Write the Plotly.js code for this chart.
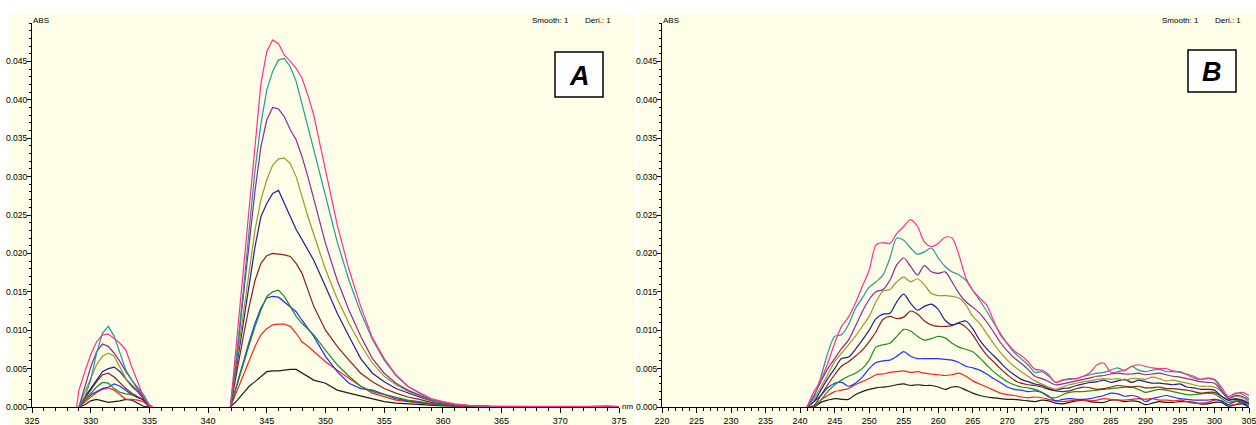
<!DOCTYPE html>
<html>
<head>
<meta charset="utf-8">
<script src="https://cdn.plot.ly/plotly-3.0.1.min.js"></script>
<style>html,body{margin:0;padding:0;background:#fff;}#chart{width:1256px;height:425px;}</style>
</head>
<body>
<div id="chart"></div>
<script>
// ---------- Panel A data (wavelength nm, absorbance) ----------
const xA = [328.8, 329, 329.5, 330, 330.5, 331, 331.5, 332, 332.5, 333, 333.5, 334, 334.5, 335, 335.3, 338,
  341.9, 342.5, 343, 343.5, 344, 344.5, 345, 345.5, 346, 346.5, 347, 347.5, 348, 348.5, 349, 350, 351, 352, 353, 354,
  355, 356, 357, 358, 359, 360, 361, 362, 363, 364, 366, 368, 370, 372, 374, 375];

const blackA = [null, 0, 0.0003, 0.0008, 0.0010, 0.0008, 0.0006, 0.0007, 0.0008, 0.0010, 0.0009, 0.0005, 0.0001, 0, null, null,
  0, 0.0009, 0.0018, 0.0027, 0.0033, 0.0040, 0.0046, 0.0047, 0.0047, 0.0048, 0.0049, 0.0049, 0.0044, 0.0040, 0.0035, 0.0031, 0.0022, 0.0018, 0.0014, 0.0010,
  0.0007, 0.0005, 0.0004, 0.0003, 0.0002, 0.00015, 0.0001, 0.00008, 0.00005, 0.00005, 0.00003, 0.00003, 0.00003, 0.00003, 0.00003, 0.00003];
const redA = [null, 0, 0.0007, 0.0013, 0.0019, 0.0023, 0.0025, 0.0022, 0.0016, 0.0010, 0.0010, 0.0009, 0.0007, 0, null, null,
  0, 0.0022, 0.0042, 0.0061, 0.0079, 0.0094, 0.0102, 0.0107, 0.0108, 0.0108, 0.0105, 0.0096, 0.0085, 0.0079, 0.0072, 0.0059, 0.0048, 0.0037, 0.0027, 0.0018,
  0.0013, 0.0009, 0.0007, 0.0005, 0.00035, 0.00025, 0.00015, 0.0001, 0.00005, 0.00005, 0.00005, 0.00005, 0.00005, 0.00005, 0.00005, 0.00005];
const blueA = [null, 0, 0.0009, 0.0016, 0.0020, 0.0024, 0.0026, 0.0030, 0.0027, 0.0021, 0.0016, 0.0012, 0.0010, 0, null, null,
  0, 0.0033, 0.0059, 0.0085, 0.0109, 0.0129, 0.0142, 0.0144, 0.0143, 0.0137, 0.0131, 0.0124, 0.0113, 0.0102, 0.0092, 0.0066, 0.0046, 0.0031, 0.0024, 0.0022,
  0.0016, 0.0011, 0.0008, 0.0006, 0.0004, 0.0003, 0.0002, 0.0001, 0.00008, 0.00005, 0.00005, 0.00005, 0.00005, 0.00005, 0.00005, 0.00005];
const greenA = [null, 0, 0.0009, 0.0018, 0.0026, 0.0032, 0.0031, 0.0024, 0.0019, 0.0017, 0.0016, 0.0013, 0.0009, 0, null, null,
  0, 0.0031, 0.0057, 0.0081, 0.0105, 0.0126, 0.0144, 0.0150, 0.0152, 0.0144, 0.0131, 0.0118, 0.0109, 0.0102, 0.0094, 0.0074, 0.0055, 0.0040, 0.0027, 0.0020,
  0.0016, 0.0012, 0.0009, 0.0007, 0.00045, 0.0003, 0.0002, 0.0001, 0.00008, 0.00005, 0.00005, 0.00005, 0.00005, 0.00005, 0.00015, 0.00005];
const brownA = [null, 0, 0.0011, 0.0022, 0.0033, 0.0042, 0.0044, 0.0039, 0.0031, 0.0024, 0.0018, 0.0013, 0.0009, 0, null, null,
  0, 0.0053, 0.0092, 0.0131, 0.0165, 0.0187, 0.0197, 0.0200, 0.0199, 0.0198, 0.0196, 0.0187, 0.0174, 0.0153, 0.0131, 0.0100, 0.0079, 0.0061, 0.0044, 0.0033,
  0.0024, 0.0018, 0.0013, 0.0010, 0.0006, 0.0004, 0.00025, 0.00015, 0.0001, 0.00005, 0.00005, 0.00005, 0.00005, 0.00005, 0.00005, 0.00005];
const navyA = [null, 0, 0.0013, 0.0024, 0.0035, 0.0046, 0.0050, 0.0052, 0.0046, 0.0037, 0.0027, 0.0020, 0.0011, 0, null, null,
  0, 0.0061, 0.0113, 0.0161, 0.0209, 0.0248, 0.0265, 0.0278, 0.0282, 0.0265, 0.0248, 0.0231, 0.0218, 0.0204, 0.0191, 0.0157, 0.0122, 0.0092, 0.0063, 0.0044,
  0.0033, 0.0024, 0.0018, 0.0013, 0.0008, 0.0005, 0.0003, 0.0002, 0.0001, 0.00008, 0.00005, 0.00005, 0.00005, 0.00005, 0.00005, 0.00005];
const oliveA = [null, 0, 0.0020, 0.0037, 0.0055, 0.0066, 0.0070, 0.0066, 0.0052, 0.0037, 0.0029, 0.0022, 0.0013, 0.0001, 0, null,
  0, 0.0066, 0.0122, 0.0179, 0.0231, 0.0270, 0.0296, 0.0315, 0.0323, 0.0324, 0.0317, 0.0300, 0.0273, 0.0248, 0.0225, 0.0179, 0.0141, 0.0109, 0.0081, 0.0057,
  0.0040, 0.0029, 0.0021, 0.0015, 0.0008, 0.0005, 0.0003, 0.0002, 0.0001, 0.00008, 0.00005, 0.00005, 0.00005, 0.00005, 0.00008, 0.00005];
const purpleA = [null, 0, 0.0026, 0.0052, 0.0072, 0.0082, 0.0079, 0.0070, 0.0059, 0.0046, 0.0035, 0.0024, 0.0013, 0.0001, 0, null,
  0, 0.0074, 0.0144, 0.0213, 0.0282, 0.0339, 0.0374, 0.0390, 0.0388, 0.0378, 0.0361, 0.0348, 0.0326, 0.0300, 0.0270, 0.0213, 0.0165, 0.0126, 0.0092, 0.0063,
  0.0044, 0.0031, 0.0022, 0.0016, 0.0009, 0.00055, 0.0003, 0.0002, 0.0001, 0.00008, 0.00005, 0.00005, 0.00005, 0.00008, 0.00005, 0.00005];
const tealA = [null, 0, 0.0013, 0.0035, 0.0070, 0.0096, 0.0105, 0.0092, 0.0070, 0.0048, 0.0035, 0.0026, 0.0016, 0.0003, 0, null,
  0, 0.0078, 0.0152, 0.0231, 0.0309, 0.0369, 0.0413, 0.0437, 0.0452, 0.0454, 0.0443, 0.0424, 0.0395, 0.0366, 0.0335, 0.0275, 0.0215, 0.0165, 0.0123, 0.0088,
  0.0061, 0.0041, 0.0027, 0.0018, 0.0010, 0.0006, 0.00035, 0.0002, 0.0001, 0.0001, 0.00005, 0.00005, 0.00008, 0.00005, 0.00005, 0.00005];
const pinkA = [0, 0.0022, 0.0046, 0.0068, 0.0085, 0.0094, 0.0095, 0.0089, 0.0083, 0.0074, 0.0052, 0.0033, 0.0013, 0.0001, 0, null,
  0, 0.0097, 0.0180, 0.0262, 0.0345, 0.0421, 0.0463, 0.0478, 0.0473, 0.0458, 0.0450, 0.0441, 0.0428, 0.0406, 0.0380, 0.0309, 0.0237, 0.0179, 0.0131, 0.0090,
  0.0063, 0.0042, 0.0027, 0.0019, 0.0011, 0.0007, 0.0004, 0.00025, 0.0001, 0.0001, 0.00005, 0.00008, 0.00005, 0.00006, 0.0001, 0.00005];

// ---------- Panel B data ----------
const xB = [241, 242, 243, 244, 245, 246, 247, 248, 249, 250, 251, 252, 253, 254, 255, 256, 257, 258, 259, 260,
  261, 262, 263, 264, 265, 266, 267, 268, 269, 270, 271, 272, 273, 274, 275, 276, 277, 278, 279, 280,
  281, 282, 283, 284, 285, 286, 287, 288, 289, 290, 291, 292, 293, 294, 295, 296, 297, 298, 299, 300,
  301, 302, 303, 304, 305];

const blackB = [0, 0, 0.0006, 0.0009, 0.0011, 0.0010, 0.0010, 0.0016, 0.0020, 0.0023, 0.0025, 0.0026, 0.0027, 0.0029, 0.0030, 0.0028, 0.0029, 0.0028, 0.0028, 0.0026,
  0.0023, 0.0026, 0.0026, 0.0022, 0.0018, 0.0015, 0.0013, 0.0012, 0.0011, 0.0010, 0.0010, 0.0009, 0.0008, 0.0007, 0.0009, 0.0008, 0.0005, 0.0004, 0.0006, 0.0008,
  0.0009, 0.0007, 0.0006, 0.0006, 0.0009, 0.0009, 0.0007, 0.0008, 0.0007, 0.0003, 0.0005, 0.0007, 0.0006, 0.0006, 0.0007, 0.0007, 0.0006, 0.0004, 0.0004, 0.0006,
  0.0006, 0.0001, 0.0003, 0.0004, 0.0000];
const redB = [0, 0, 0.0009, 0.0015, 0.0020, 0.0022, 0.0024, 0.0029, 0.0033, 0.0037, 0.0042, 0.0043, 0.0045, 0.0046, 0.0047, 0.0045, 0.0046, 0.0044, 0.0043, 0.0042,
  0.0041, 0.0042, 0.0044, 0.0040, 0.0034, 0.0030, 0.0026, 0.0022, 0.0018, 0.0016, 0.0015, 0.0013, 0.0012, 0.0013, 0.0012, 0.0010, 0.0008, 0.0007, 0.0008, 0.0009,
  0.0009, 0.0008, 0.0009, 0.0011, 0.0010, 0.0009, 0.0009, 0.0010, 0.0011, 0.0010, 0.0011, 0.0009, 0.0009, 0.0008, 0.0009, 0.0007, 0.0005, 0.0005, 0.0006, 0.0009,
  0.0008, 0.0003, 0.0003, 0.0007, 0.0000];
const blueB = [0, 0.0007, 0.0015, 0.0025, 0.0031, 0.0032, 0.0027, 0.0031, 0.0039, 0.0050, 0.0058, 0.0060, 0.0061, 0.0066, 0.0072, 0.0066, 0.0063, 0.0063, 0.0063, 0.0063,
  0.0062, 0.0061, 0.0058, 0.0053, 0.0051, 0.0048, 0.0043, 0.0037, 0.0032, 0.0026, 0.0023, 0.0022, 0.0020, 0.0021, 0.0019, 0.0014, 0.0008, 0.0010, 0.0011, 0.0010,
  0.0010, 0.0011, 0.0013, 0.0015, 0.0018, 0.0017, 0.0014, 0.0015, 0.0013, 0.0007, 0.0011, 0.0013, 0.0015, 0.0013, 0.0011, 0.0010, 0.0009, 0.0009, 0.0009, 0.0010,
  0.0008, 0.0003, 0.0007, 0.0006, 0.0000];
const greenB = [0, 0, 0.0009, 0.0020, 0.0029, 0.0035, 0.0040, 0.0044, 0.0050, 0.0061, 0.0078, 0.0081, 0.0083, 0.0092, 0.0101, 0.0099, 0.0092, 0.0087, 0.0089, 0.0092,
  0.0090, 0.0083, 0.0078, 0.0075, 0.0072, 0.0064, 0.0055, 0.0046, 0.0039, 0.0033, 0.0029, 0.0026, 0.0025, 0.0023, 0.0019, 0.0013, 0.0012, 0.0016, 0.0019, 0.0020,
  0.0020, 0.0021, 0.0022, 0.0023, 0.0024, 0.0025, 0.0026, 0.0026, 0.0023, 0.0019, 0.0021, 0.0023, 0.0022, 0.0020, 0.0018, 0.0016, 0.0016, 0.0017, 0.0018, 0.0017,
  0.0011, 0.0006, 0.0008, 0.0008, 0.0003];
const brownB = [0, 0.0002, 0.0015, 0.0029, 0.0042, 0.0053, 0.0059, 0.0066, 0.0074, 0.0085, 0.0098, 0.0114, 0.0118, 0.0115, 0.0117, 0.0125, 0.0121, 0.0112, 0.0107, 0.0105,
  0.0105, 0.0106, 0.0109, 0.0104, 0.0094, 0.0080, 0.0068, 0.0059, 0.0050, 0.0042, 0.0035, 0.0031, 0.0029, 0.0028, 0.0026, 0.0023, 0.0021, 0.0020, 0.0021, 0.0024,
  0.0026, 0.0025, 0.0023, 0.0024, 0.0026, 0.0028, 0.0027, 0.0026, 0.0027, 0.0025, 0.0025, 0.0026, 0.0024, 0.0024, 0.0023, 0.0022, 0.0020, 0.0018, 0.0019, 0.0019,
  0.0014, 0.0009, 0.0010, 0.0009, 0.0004];
const navyB = [0, 0.0007, 0.0022, 0.0037, 0.0050, 0.0063, 0.0065, 0.0075, 0.0087, 0.0100, 0.0115, 0.0121, 0.0122, 0.0137, 0.0147, 0.0135, 0.0126, 0.0131, 0.0134, 0.0127,
  0.0113, 0.0107, 0.0110, 0.0112, 0.0102, 0.0087, 0.0076, 0.0067, 0.0058, 0.0049, 0.0042, 0.0036, 0.0033, 0.0030, 0.0028, 0.0024, 0.0022, 0.0024, 0.0025, 0.0028,
  0.0030, 0.0032, 0.0033, 0.0035, 0.0032, 0.0034, 0.0036, 0.0032, 0.0035, 0.0033, 0.0031, 0.0031, 0.0030, 0.0029, 0.0030, 0.0026, 0.0025, 0.0023, 0.0023, 0.0022,
  0.0014, 0.0009, 0.0011, 0.0009, 0.0005];
const oliveB = [0, 0.0011, 0.0026, 0.0042, 0.0059, 0.0070, 0.0081, 0.0092, 0.0105, 0.0118, 0.0137, 0.0151, 0.0153, 0.0163, 0.0169, 0.0163, 0.0167, 0.0159, 0.0148, 0.0145,
  0.0145, 0.0144, 0.0142, 0.0133, 0.0118, 0.0109, 0.0096, 0.0083, 0.0071, 0.0061, 0.0053, 0.0046, 0.0040, 0.0034, 0.0030, 0.0026, 0.0023, 0.0026, 0.0029, 0.0031,
  0.0033, 0.0034, 0.0036, 0.0037, 0.0036, 0.0037, 0.0035, 0.0037, 0.0037, 0.0036, 0.0039, 0.0037, 0.0034, 0.0035, 0.0033, 0.0031, 0.0029, 0.0027, 0.0027, 0.0026,
  0.0020, 0.0011, 0.0014, 0.0012, 0.0007];
const purpleB = [0, 0.0015, 0.0033, 0.0050, 0.0063, 0.0076, 0.0087, 0.0105, 0.0124, 0.0140, 0.0150, 0.0153, 0.0165, 0.0185, 0.0194, 0.0183, 0.0172, 0.0184, 0.0176, 0.0174,
  0.0176, 0.0163, 0.0148, 0.0137, 0.0130, 0.0122, 0.0111, 0.0098, 0.0084, 0.0073, 0.0064, 0.0057, 0.0049, 0.0040, 0.0037, 0.0033, 0.0029, 0.0030, 0.0032, 0.0034,
  0.0036, 0.0038, 0.0040, 0.0041, 0.0043, 0.0044, 0.0043, 0.0043, 0.0044, 0.0042, 0.0043, 0.0044, 0.0042, 0.0040, 0.0039, 0.0037, 0.0035, 0.0033, 0.0032, 0.0031,
  0.0021, 0.0011, 0.0015, 0.0014, 0.0009];
const tealB = [0, 0.0013, 0.0039, 0.0070, 0.0092, 0.0094, 0.0107, 0.0128, 0.0142, 0.0156, 0.0163, 0.0172, 0.0194, 0.0220, 0.0217, 0.0207, 0.0199, 0.0202, 0.0207, 0.0194,
  0.0183, 0.0176, 0.0172, 0.0165, 0.0152, 0.0139, 0.0125, 0.0110, 0.0096, 0.0082, 0.0071, 0.0063, 0.0055, 0.0045, 0.0046, 0.0040, 0.0032, 0.0035, 0.0037, 0.0037,
  0.0040, 0.0042, 0.0044, 0.0045, 0.0048, 0.0051, 0.0047, 0.0053, 0.0048, 0.0046, 0.0048, 0.0049, 0.0046, 0.0046, 0.0045, 0.0043, 0.0040, 0.0036, 0.0037, 0.0035,
  0.0023, 0.0013, 0.0018, 0.0017, 0.0011];
const pinkB = [0, 0.0020, 0.0035, 0.0057, 0.0083, 0.0105, 0.0117, 0.0135, 0.0157, 0.0178, 0.0211, 0.0214, 0.0213, 0.0226, 0.0235, 0.0244, 0.0235, 0.0215, 0.0209, 0.0213,
  0.0221, 0.0220, 0.0198, 0.0168, 0.0152, 0.0142, 0.0133, 0.0113, 0.0094, 0.0083, 0.0073, 0.0067, 0.0059, 0.0049, 0.0048, 0.0042, 0.0032, 0.0035, 0.0036, 0.0037,
  0.0040, 0.0045, 0.0055, 0.0057, 0.0045, 0.0046, 0.0048, 0.0053, 0.0055, 0.0053, 0.0051, 0.0050, 0.0050, 0.0047, 0.0046, 0.0042, 0.0038, 0.0036, 0.0038, 0.0036,
  0.0026, 0.0014, 0.0017, 0.0019, 0.0015];

const seriesNames = ['s1', 's2', 's3', 's4', 's5', 's6', 's7', 's8', 's9', 's10'];
const seriesColors = ['#1e1e1e', '#ff2020', '#2030ff', '#228b22', '#8b2020', '#202090', '#99992a', '#8b2a9a', '#22999a', '#ff3090'];
const seriesA = [blackA, redA, blueA, greenA, brownA, navyA, oliveA, purpleA, tealA, pinkA];
const seriesB = [blackB, redB, blueB, greenB, brownB, navyB, oliveB, purpleB, tealB, pinkB];

const yTickVals = [0, 0.005, 0.010, 0.015, 0.020, 0.025, 0.030, 0.035, 0.040, 0.045];

// ---------- layout helpers (pixels -> paper) ----------
const W = 1256, H = 425;
const PX = p => p / W;
const PY = p => 1 - p / H;

const traces = [];
seriesA.forEach((ys, i) => traces.push({
  x: xA, y: ys, type: 'scatter', mode: 'lines', name: seriesNames[i],
  xaxis: 'x', yaxis: 'y', connectgaps: false,
  line: {color: seriesColors[i], width: 1.2}
}));
seriesB.forEach((ys, i) => traces.push({
  x: xB, y: ys, type: 'scatter', mode: 'lines', name: seriesNames[i],
  xaxis: 'x2', yaxis: 'y2',
  line: {color: seriesColors[i], width: 1.2, shape: 'spline', smoothing: 0.8}
}));

const fam = 'Liberation Sans, Arial, sans-serif';
const tickFont = {family: fam, size: 9, color: '#000'};
const baseX = {
  showline: true, linecolor: '#000', linewidth: 1, showgrid: false, zeroline: false,
  ticks: 'outside', ticklen: 5, tickcolor: '#000', tickwidth: 1, dtick: 5,
  tickfont: tickFont, fixedrange: true, ticklabeloverflow: 'allow',
  minor: {dtick: 1, ticks: 'outside', ticklen: 3, tickcolor: '#000', tickwidth: 1, showgrid: false}
};
const baseY = {
  showline: true, linecolor: '#000', linewidth: 1, showgrid: false, zeroline: false,
  ticks: 'outside', ticklen: 4, tickcolor: '#000', tickwidth: 1,
  tickmode: 'array', tickvals: yTickVals, tickformat: '.3f', ticklabelstandoff: -2,
  tickfont: {family: fam, size: 8.5, color: '#000'}, range: [0, 0.05], fixedrange: true, ticklabeloverflow: 'allow',
  minor: {dtick: 0.001, tick0: 0, ticks: 'outside', ticklen: 2.5, tickcolor: '#000', tickwidth: 1, showgrid: false}
};
const yDom = [1 - 407 / H, 1 - 23 / H];

const smallFont = {family: fam, size: 8, color: '#000'};
const labelFont = {family: 'Liberation Sans, Arial, sans-serif', size: 27, color: '#000'};

function txt(text, x, y, xanchor, font) {
  return {text: text, x: PX(x), y: PY(y), xref: 'paper', yref: 'paper', xanchor: xanchor, yanchor: 'middle', showarrow: false, font: font};
}

const layout = {
  width: W, height: H,
  margin: {l: 0, r: 0, t: 0, b: 0},
  paper_bgcolor: '#ffffff', plot_bgcolor: 'rgba(0,0,0,0)',
  showlegend: false, hovermode: false,
  xaxis: Object.assign({}, baseX, {domain: [PX(32), PX(619)], range: [325, 375], anchor: 'y'}),
  yaxis: Object.assign({}, baseY, {domain: yDom, anchor: 'x'}),
  xaxis2: Object.assign({}, baseX, {domain: [PX(662), PX(1249)], range: [220, 305], anchor: 'y2'}),
  yaxis2: Object.assign({}, baseY, {domain: yDom, anchor: 'x2'}),
  shapes: [
    {type: 'rect', xref: 'paper', yref: 'paper', x0: PX(9), x1: PX(635), y0: 0, y1: PY(14), fillcolor: '#fefde8', line: {width: 0}, layer: 'below'},
    {type: 'rect', xref: 'paper', yref: 'paper', x0: PX(639), x1: 1, y0: 0, y1: PY(14), fillcolor: '#fefde8', line: {width: 0}, layer: 'below'},
    {type: 'rect', xref: 'paper', yref: 'paper', x0: PX(555), x1: PX(603), y0: PY(97), y1: PY(52), fillcolor: '#ffffff', line: {color: '#000', width: 1.5}, layer: 'above'},
    {type: 'rect', xref: 'paper', yref: 'paper', x0: PX(1188), x1: PX(1236), y0: PY(92), y1: PY(50), fillcolor: '#ffffff', line: {color: '#000', width: 1.5}, layer: 'above'}
  ],
  annotations: [
    txt('ABS', 31, 20, 'left', smallFont),
    txt('ABS', 661, 20, 'left', smallFont),
    txt('Smooth: 1', 550, 20, 'center', smallFont),
    txt('Deri.: 1', 598, 20, 'center', smallFont),
    txt('Smooth: 1', 1180, 20, 'center', smallFont),
    txt('Deri.: 1', 1228, 20, 'center', smallFont),
    txt('nm', 620, 406, 'left', smallFont),
    txt('<b><i>A</i></b>', 579, 76, 'center', labelFont),
    txt('<b><i>B</i></b>', 1212, 72, 'center', labelFont)
  ]
};

Plotly.newPlot('chart', traces, layout, {staticPlot: true, displayModeBar: false});
</script>
</body>
</html>
